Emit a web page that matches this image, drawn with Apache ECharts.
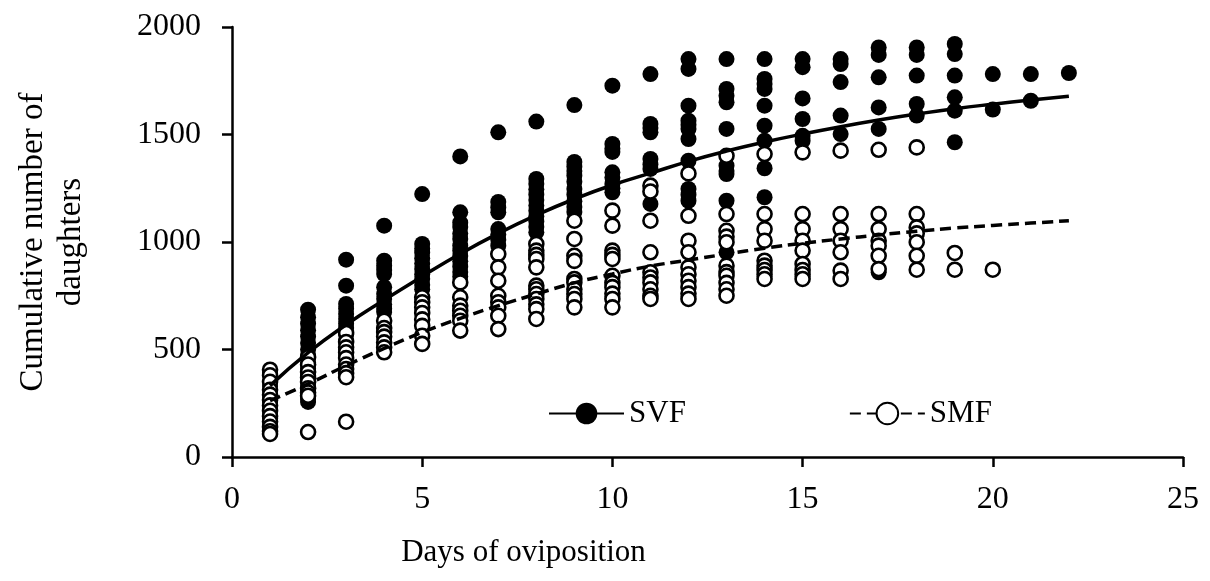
<!DOCTYPE html>
<html>
<head>
<meta charset="utf-8">
<script src="https://cdn.jsdelivr.net/npm/echarts@6/dist/echarts.min.js"></script>
<style>
html,body{margin:0;padding:0;background:#fff;}
#chart{width:1210px;height:581px;}
</style>
</head>
<body>
<div id="chart"></div>
<script>
// Days of oviposition (x positions of the fitted curves)
var days = [1,2,3,4,5,6,7,8,9,10,11,12,13,14,15,16,17,18,19,20,21,22];

// SVF observed cumulative daughters, one list per day (day 1 .. day 22)
var svfByDay = [
  [180, 260, 330, 390],
  [685, 650, 620, 590, 560, 530, 500, 470, 440, 410, 380, 350, 320, 290, 270, 256],
  [918, 797, 712, 690, 665, 642, 620, 600, 570, 540, 500, 470],
  [1076, 913, 890, 870, 851, 790, 758, 735, 710, 690, 674],
  [1223, 991, 970, 950, 925, 900, 875, 850, 828, 800, 780],
  [1398, 1138, 1090, 1070, 1040, 1014, 983, 960, 935, 910, 885, 860, 840],
  [1510, 1186, 1160, 1138, 1060, 1035, 1010, 983],
  [1560, 1293, 1270, 1245, 1220, 1195, 1170, 1145, 1120, 1095, 1070, 1045],
  [1637, 1372, 1350, 1330, 1308, 1280, 1247, 1220, 1190, 1163, 1140],
  [1727, 1456, 1435, 1419, 1324, 1300, 1270, 1250, 1231],
  [1781, 1549, 1530, 1510, 1386, 1360, 1340, 1177],
  [1851, 1805, 1634, 1564, 1545, 1526, 1479, 1378, 1247, 1220, 1192],
  [1851, 1712, 1680, 1650, 1526, 1355, 1330, 1316, 1192, 952],
  [1851, 1758, 1735, 1712, 1634, 1541, 1471, 1343, 1208],
  [1851, 1813, 1668, 1572, 1494, 1471],
  [1851, 1828, 1744, 1588, 1502],
  [1905, 1870, 1766, 1626, 1526, 859],
  [1905, 1870, 1774, 1642, 1588],
  [1921, 1874, 1774, 1673, 1611, 1464],
  [1781, 1616],
  [1781, 1657],
  [1786]
];

// SMF observed cumulative daughters, one list per day (day 1 .. day 20)
var smfByDay = [
  [406, 380, 350, 313, 290, 265, 240, 215, 190, 165, 140, 120, 107],
  [464, 430, 395, 370, 349, 320, 300, 285, 116],
  [577, 535, 510, 487, 460, 430, 409, 390, 371, 164],
  [634, 600, 581, 560, 533, 510, 487],
  [743, 720, 696, 670, 640, 610, 564, 526],
  [812, 743, 704, 680, 657, 634, 588],
  [944, 882, 820, 750, 720, 696, 657, 595],
  [991, 960, 940, 921, 882, 797, 780, 758, 735, 710, 688, 642],
  [1099, 1014, 936, 912, 828, 812, 780, 758, 735, 696],
  [1146, 1076, 960, 940, 921, 843, 810, 790, 760, 735, 696],
  [1262, 1235, 1099, 952, 859, 835, 812, 780, 750, 735],
  [1319, 1122, 1006, 952, 882, 850, 820, 790, 760, 735],
  [1401, 1130, 1052, 1025, 999, 890, 860, 843, 810, 780, 750],
  [1409, 1130, 1060, 1006, 913, 890, 870, 850, 828],
  [1417, 1130, 1060, 1006, 960, 898, 870, 850, 828],
  [1425, 1130, 1060, 1006, 952, 867, 828],
  [1429, 1130, 1060, 1006, 983, 936, 874],
  [1440, 1130, 1068, 1040, 999, 936, 871],
  [949, 871],
  [871]
];

// Fitted curves read at each day
var svfFit = [332, 485, 615, 730, 840, 945, 1040, 1125, 1200, 1265, 1320, 1375, 1423, 1465, 1502, 1536, 1567, 1595, 1620, 1641, 1660, 1678];
var smfFit = [262, 340, 425, 505, 580, 645, 704, 758, 810, 851, 888, 916, 944, 971, 994, 1014, 1033, 1050, 1065, 1077, 1088, 1099];

var xTicks = [0, 5, 10, 15, 20, 25];
var yTicks = [0, 500, 1000, 1500, 2000];

function toPoints(byDay) {
  var out = [];
  byDay.forEach(function (vals, i) {
    vals.forEach(function (v) { out.push([i + 1, v]); });
  });
  return out;
}
function fitPoints(fit) {
  return days.map(function (d, i) { return [d, fit[i]]; });
}

var FONT = '"Liberation Serif", "Times New Roman", serif';
var chart = echarts.init(document.getElementById('chart'), null, {renderer: 'canvas'});
chart.setOption({
  animation: false,
  backgroundColor: '#ffffff',
  textStyle: {fontFamily: FONT, color: '#000'},
  grid: {left: 232, right: 27, top: 27, bottom: 124, containLabel: false},
  legend: {
    data: ['SVF', 'SMF'],
    left: 543, top: 393,
    itemWidth: 75, itemHeight: 27, itemGap: 163,
    textStyle: {fontFamily: FONT, fontSize: 31, color: '#000'},
    selectedMode: false
  },
  xAxis: {
    type: 'value', min: xTicks[0], max: xTicks[xTicks.length - 1], interval: 5,
    name: 'Days of oviposition', nameLocation: 'middle', nameGap: 80,
    nameTextStyle: {fontFamily: FONT, fontSize: 31, color: '#000', padding: [0, 368, 0, 0]},
    axisLine: {lineStyle: {color: '#000', width: 2.5}},
    axisTick: {show: true, inside: false, length: 10, lineStyle: {color: '#000', width: 2.5}},
    axisLabel: {fontFamily: FONT, fontSize: 32, color: '#000', margin: 27,
      formatter: function (v) { return String(v); }},
    splitLine: {show: false}
  },
  yAxis: {
    type: 'value', min: yTicks[0], max: yTicks[yTicks.length - 1], interval: 500,
    name: 'Cumulative number of\ndaughters', nameLocation: 'middle', nameGap: 142,
    nameTextStyle: {fontFamily: FONT, fontSize: 33, color: '#000', lineHeight: 38, align: 'center'},
    axisLine: {show: true, lineStyle: {color: '#000', width: 2.5}},
    axisTick: {show: true, inside: false, length: 10, lineStyle: {color: '#000', width: 2.5}},
    axisLabel: {fontFamily: FONT, fontSize: 32, color: '#000', margin: 31,
      formatter: function (v) { return String(v); }},
    splitLine: {show: false}
  },
  series: [
    {
      name: 'SVF obs', type: 'scatter', data: toPoints(svfByDay),
      symbol: 'circle', symbolSize: 16,
      itemStyle: {color: '#000', borderColor: '#000', borderWidth: 0, opacity: 1},
      z: 2
    },
    {
      name: 'SMF obs', type: 'scatter', data: toPoints(smfByDay),
      symbol: 'circle', symbolSize: 14,
      itemStyle: {color: '#fff', borderColor: '#000', borderWidth: 2.6, opacity: 1},
      z: 3
    },
    {
      name: 'SVF', type: 'line', data: fitPoints(svfFit), smooth: true,
      symbol: 'circle', showSymbol: false,
      lineStyle: {color: '#000', width: 3.5, type: 'solid'},
      itemStyle: {color: '#000', borderColor: '#000', borderWidth: 0},
      z: 4
    },
    {
      name: 'SMF', type: 'line', data: fitPoints(smfFit), smooth: true,
      symbol: 'circle', showSymbol: false,
      lineStyle: {color: '#000', width: 3.5, type: [11, 6]},
      itemStyle: {color: '#fff', borderColor: '#000', borderWidth: 2.5},
      z: 4
    }
  ]
});
</script>
</body>
</html>
